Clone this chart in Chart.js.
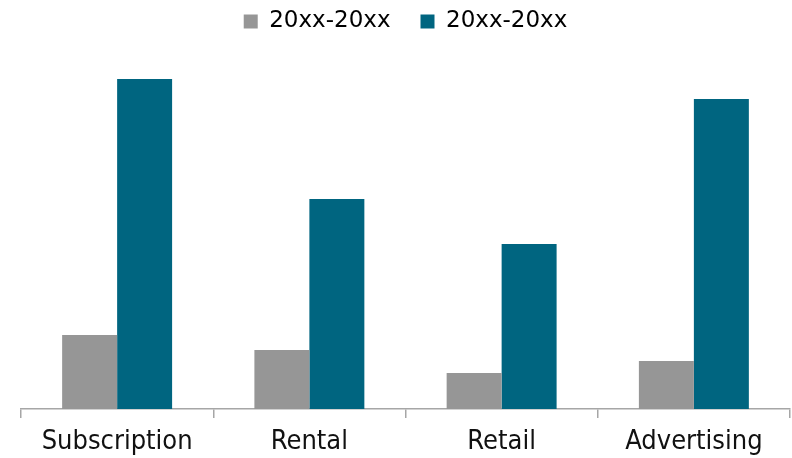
<!DOCTYPE html>
<html>
<head>
<meta charset="utf-8">
<script src="https://cdn.jsdelivr.net/npm/chart.js@4.4.0/dist/chart.umd.min.js"></script>
<style>
  html, body { margin: 0; padding: 0; background: #fff; }
  #wrap { width: 792px; height: 458px; }
</style>
</head>
<body>
<div id="wrap"><canvas id="chart"></canvas></div>
<script>
const categories = ['Subscription', 'Rental', 'Retail', 'Advertising'];
const seriesNames = ['20xx-20xx', '20xx-20xx'];
const earlierValues = [7.4, 5.9, 3.6, 4.8];
const laterValues = [33.0, 21.0, 16.5, 31.0];
const yMax = 36.6;

const grey = '#969696';
const teal = '#006580';
const axisGrey = '#a6a6a6';

new Chart(document.getElementById('chart'), {
  type: 'bar',
  data: {
    labels: categories,
    datasets: [
      { label: seriesNames[0], data: earlierValues, backgroundColor: grey },
      { label: seriesNames[1], data: laterValues, backgroundColor: teal }
    ]
  },
  options: {
    responsive: true,
    maintainAspectRatio: false,
    animation: false,
    datasets: {
      bar: { categoryPercentage: 0.572, barPercentage: 1.0 }
    },
    layout: {
      padding: { top: -20, left: 21, right: 2, bottom: 0 }
    },
    plugins: {
      tooltip: { enabled: false },
      legend: {
        position: 'top',
        labels: {
          boxWidth: 14,
          boxHeight: 14,
          padding: 30,
          color: '#000',
          font: { family: 'DejaVu Sans', size: 23 }
        }
      }
    },
    scales: {
      x: {
        grid: {
          drawOnChartArea: false,
          tickLength: 9,
          color: axisGrey,
          lineWidth: 1.5
        },
        border: { color: axisGrey, width: 1.5 },
        ticks: {
          padding: 8,
          color: '#111',
          font: { family: 'DejaVu Sans Condensed', size: 27 }
        },
        afterFit: (scale) => { scale.height = 49; }
      },
      y: {
        display: false,
        min: 0,
        max: yMax
      }
    }
  }
});
</script>
</body>
</html>
